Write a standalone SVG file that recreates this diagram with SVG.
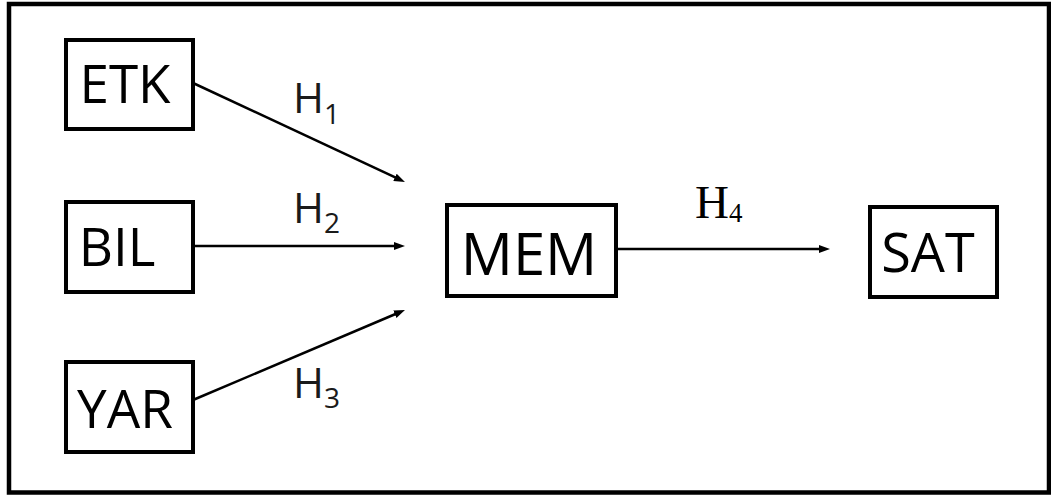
<svg xmlns="http://www.w3.org/2000/svg" width="1051" height="498" viewBox="0 0 1051 498">
  <style>
    .frame { fill: #ffffff; stroke: #000000; stroke-width: 4.5; }
    .box { fill: #ffffff; stroke: #000000; stroke-width: 4; }
    .label { font-family: "Open Sans", "Liberation Sans", sans-serif; fill: #000000; text-anchor: middle; }
    .hyp { font-family: "Open Sans", "Liberation Sans", sans-serif; fill: #1a1a1a; }
    .hyp-serif { font-family: "Liberation Serif", "Times New Roman", serif; fill: #000000; }
    .edge { stroke: #000000; stroke-width: 2.5; fill: none; marker-end: url(#arrow); }
  </style>
  <defs>
    <marker id="arrow" markerUnits="userSpaceOnUse" markerWidth="11" markerHeight="9" refX="2" refY="4.5" orient="auto">
      <path d="M0,0.5 L11,4.5 L0,8.5 z" fill="#000000"/>
    </marker>
  </defs>

  <!-- outer frame -->
  <rect class="frame" x="9" y="4" width="1040" height="488.5"/>

  <!-- nodes -->
  <g id="etk">
    <rect class="box" x="66" y="40" width="127" height="89"/>
    <text class="label" x="125" y="103" font-size="53">ETK</text>
  </g>
  <g id="bil">
    <rect class="box" x="66" y="202" width="127" height="90"/>
    <text class="label" x="117" y="266" font-size="53">BIL</text>
  </g>
  <g id="yar">
    <rect class="box" x="66" y="362" width="127" height="90"/>
    <text class="label" x="125" y="428" font-size="53">YAR</text>
  </g>
  <g id="mem">
    <rect class="box" x="447" y="205" width="169" height="91"/>
    <text class="label" x="529" y="275" font-size="58">MEM</text>
  </g>
  <g id="sat">
    <rect class="box" x="870" y="207" width="127" height="90"/>
    <text class="label" x="928" y="272" font-size="54">SAT</text>
  </g>

  <!-- connectors -->
  <g id="connectors">
    <line class="edge" x1="193" y1="83" x2="396.8" y2="178.2"/>
    <line class="edge" x1="193" y1="246" x2="396" y2="246"/>
    <line class="edge" x1="193" y1="400" x2="396.7" y2="313.5"/>
    <line class="edge" x1="617" y1="249" x2="821" y2="249"/>
  </g>

  <!-- hypothesis labels -->
  <g id="hypotheses">
    <text class="hyp" x="293" y="113" font-size="42">H<tspan font-size="28" dy="11">1</tspan></text>
    <text class="hyp" x="293" y="223" font-size="42">H<tspan font-size="28" dy="10">2</tspan></text>
    <text class="hyp" x="293" y="398" font-size="42">H<tspan font-size="28" dy="10">3</tspan></text>
    <text class="hyp-serif" x="695" y="218" font-size="47">H<tspan font-size="27" dy="4">4</tspan></text>
  </g>
</svg>
